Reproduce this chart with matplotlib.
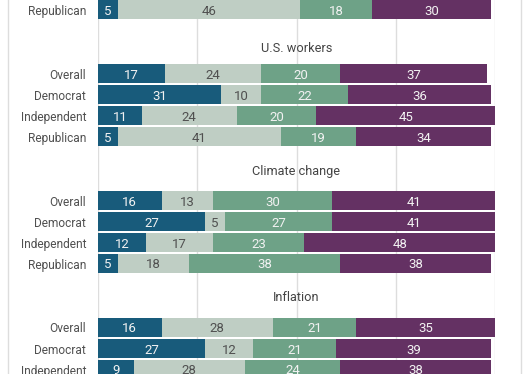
import matplotlib.pyplot as plt

plt.rcParams['font.family'] = ['Roboto', 'DejaVu Sans']

# Daten (Anteile in %), Reihenfolge der Segmente: blau, hellgrau, gruen, lila
groups = ["", "U.S. workers", "Climate change", "Inflation"]
row_names = ["Overall", "Democrat", "Independent", "Republican"]

# oberste Gruppe ist im Bild nur mit der Republican-Zeile zu sehen
top_group = {"Republican": [5, 46, 18, 30]}
workers = {
    "Overall": [17, 24, 20, 37],
    "Democrat": [31, 10, 22, 36],
    "Independent": [11, 24, 20, 45],
    "Republican": [5, 41, 19, 34],
}
climate = {
    "Overall": [16, 13, 30, 41],
    "Democrat": [27, 5, 27, 41],
    "Independent": [12, 17, 23, 48],
    "Republican": [5, 18, 38, 38],
}
inflation = {
    "Overall": [16, 28, 21, 35],
    "Democrat": [27, 12, 21, 39],
    "Independent": [9, 28, 24, 38],
}
group_data = [top_group, workers, climate, inflation]

colors = ["#185b7b", "#bfcec4", "#6ea287", "#643163"]
text_colors = ["#f2f2f2", "#505050", "#f2f2f2", "#f2f2f2"]

# Layout in Pixeln
W, H = 526, 374
x0, x100 = 98, 495
group_pitch = 127
row_pitch = 21
bar_h = 19
first_top = -63          # Oberkante "Overall" der obersten Gruppe
title_gap = [12, 11.7, 16, 17]

fig = plt.figure(figsize=(W / 100, H / 100), dpi=100)
ax = fig.add_axes([x0 / W, 0, (x100 - x0) / W, 1])
ax.set_xlim(0, 100)
ax.set_ylim(H, 0)
ax.axis('off')

# Gitterlinien
for gx in [0, 25, 50, 75, 100]:
    ax.axvline(gx, color="#dddddd", lw=1, zorder=0)
# Rahmenlinien links und rechts
fig.add_artist(plt.Line2D([7.5 / W, 7.5 / W], [0, 1], color="#dddddd", lw=1))
fig.add_artist(plt.Line2D([520.5 / W, 520.5 / W], [0, 1], color="#dddddd", lw=1))

for g, (title, data) in enumerate(zip(groups, group_data)):
    top = first_top + g * group_pitch
    if title:
        ax.text(50, top - title_gap[g], title, ha='center', va='baseline',
                fontsize=9.2, color="#444444")
    for r, name in enumerate(row_names):
        if name not in data:
            continue
        yc = top + r * row_pitch + bar_h / 2
        left = 0
        for k, v in enumerate(data[name]):
            ax.barh(yc, v, left=left, height=bar_h, color=colors[k],
                    edgecolor='none', zorder=2)
            ax.text(left + v / 2, yc, str(v), ha='center', va='center_baseline',
                    fontsize=9.5, color=text_colors[k], zorder=3)
            left += v
        ax.text(-3, yc, name, ha='right', va='center_baseline',
                fontsize=8.6, color="#505050")

fig.savefig("out.png", dpi=100)
